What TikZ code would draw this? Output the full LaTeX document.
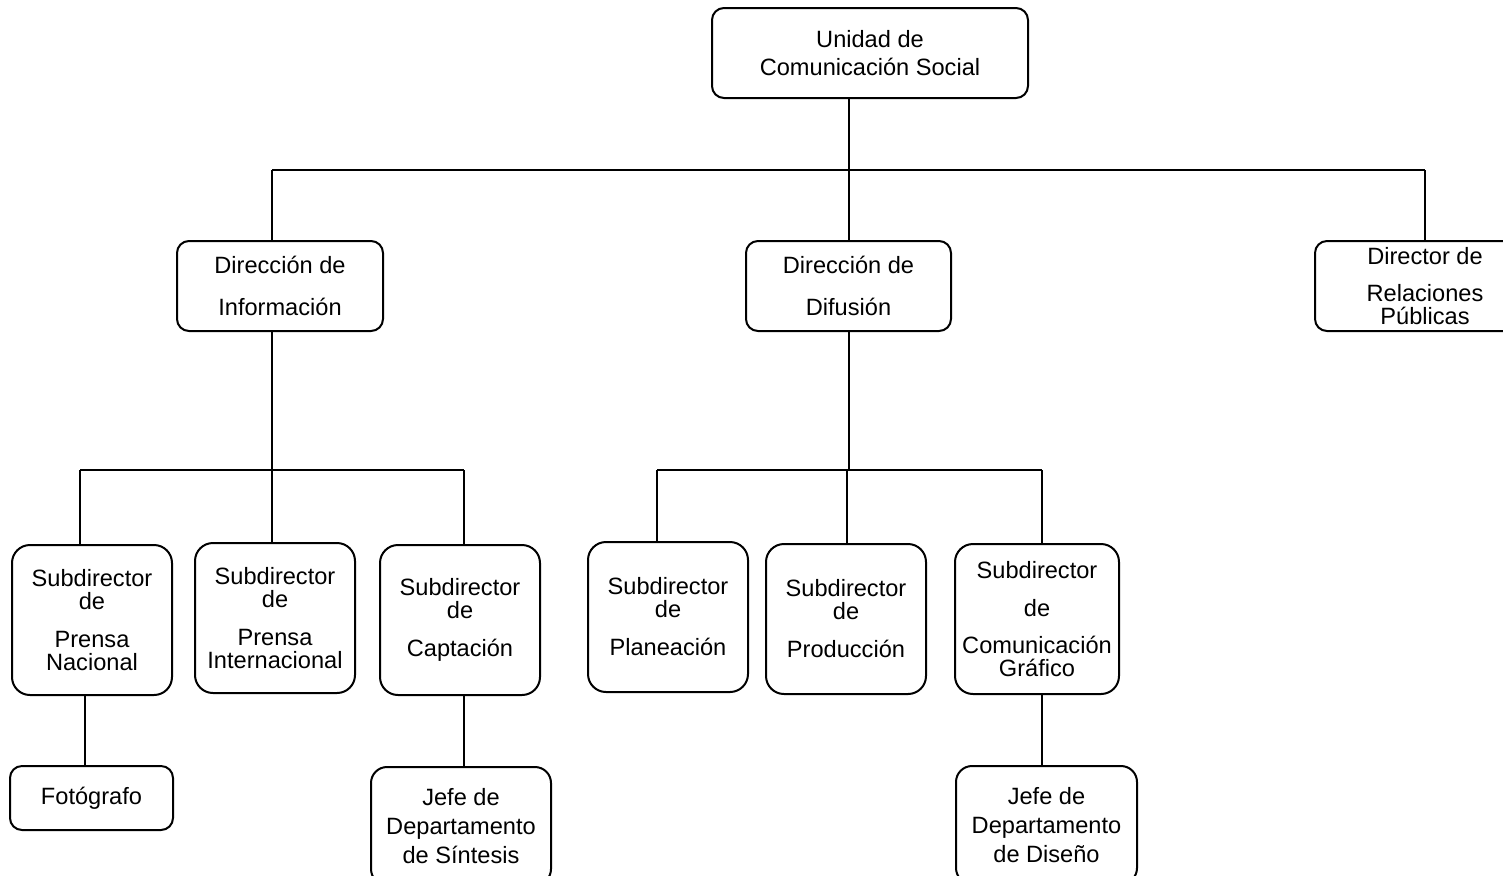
\documentclass[tikz,border=0pt]{standalone}
\usepackage{fontspec}
\setmainfont{Liberation Sans}
\begin{document}
\begin{tikzpicture}[x=0.5pt,y=-0.5pt,
  box/.style={draw=black, line width=1pt, rounded corners=6pt, inner sep=0pt, align=center,
    font=\fontsize{11.8}{11.5}\selectfont},
  subbox/.style={box, rounded corners=9pt, minimum width=80pt, minimum height=75pt},
  conn/.style={draw=black, line width=1pt}]
\useasboundingbox (0,0) rectangle (1503,875);
\fill[white] (0,0) rectangle (1503,875);

% level 0
\node[box, minimum width=158pt, minimum height=45pt] (unidad) at (870,53) {Unidad de\\[2.5pt]Comunicación Social};
% level 1
\node[box, minimum width=103pt, minimum height=45pt] (info) at (280,286) {Dirección de\\[9.5pt]Información};
\node[box, minimum width=102.5pt, minimum height=45pt] (difusion) at (848.5,286) {Dirección de\\[9.5pt]Difusión};
\node[box, minimum width=110pt, minimum height=45pt] (rel) at (1425,286) {Director de\\[7pt]Relaciones\\Públicas};
% level 2
\node[subbox] (pnac) at (92,620) {Subdirector\\de\\[7.5pt]Prensa\\Nacional};
\node[subbox] (pint) at (275,618) {Subdirector\\de\\[7.5pt]Prensa\\Internacional};
\node[subbox] (capt) at (460,620) {Subdirector\\de\\[7.5pt]Captación};
\node[subbox] (plan) at (668,617) {Subdirector\\de\\[7.5pt]Planeación};
\node[subbox] (prod) at (846,619) {Subdirector\\de\\[7.5pt]Producción};
\node[subbox, minimum width=82pt] (graf) at (1037,619) {Subdirector\\[7.5pt]de\\[7pt]Comunicación\\Gráfico};
% level 3
\node[box, minimum width=81.5pt, minimum height=32pt] (foto) at (91.5,798) {Fotógrafo};
\node[box, rounded corners=8pt, minimum width=90pt, minimum height=59pt] (sint) at (461,826) {Jefe de\\[3pt]Departamento\\[3pt]de Síntesis};
\node[box, rounded corners=8pt, minimum width=90.5pt, minimum height=59pt] (dis) at (1046.5,825) {Jefe de\\[3pt]Departamento\\[3pt]de Diseño};

% connectors level 0 -> 1
\coordinate (b1L) at (272,170);
\coordinate (b1R) at (1425,170);
\path[conn] (difusion.north |- unidad.south) -- (difusion.north);
\path[conn] (b1L) -- (b1R);
\path[conn] (b1L) -- (b1L |- info.north);
\path[conn] (b1R) -- (b1R |- rel.north);

% Información branch
\coordinate (b2L) at (80,470);
\coordinate (b2R) at (464,470);
\path[conn] (b1L |- info.south) -- (b1L |- pint.north);
\path[conn] (b2L) -- (b2R);
\path[conn] (b2L) -- (b2L |- pnac.north);
\path[conn] (b2R) -- (b2R |- capt.north);
\coordinate (c1) at (85,720);
\path[conn] (c1 |- pnac.south) -- (c1 |- foto.north);
\path[conn] (b2R |- capt.south) -- (b2R |- sint.north);

% Difusión branch
\coordinate (b3L) at (657,470);
\coordinate (b3M) at (847,470);
\coordinate (b3R) at (1042,470);
\path[conn] (difusion.south) -- (difusion.south |- b3M);
\path[conn] (b3L) -- (b3R);
\path[conn] (b3L) -- (b3L |- plan.north);
\path[conn] (b3M) -- (b3M |- prod.north);
\path[conn] (b3R) -- (b3R |- graf.north);
\path[conn] (b3R |- graf.south) -- (b3R |- dis.north);
\end{tikzpicture}
\end{document}
